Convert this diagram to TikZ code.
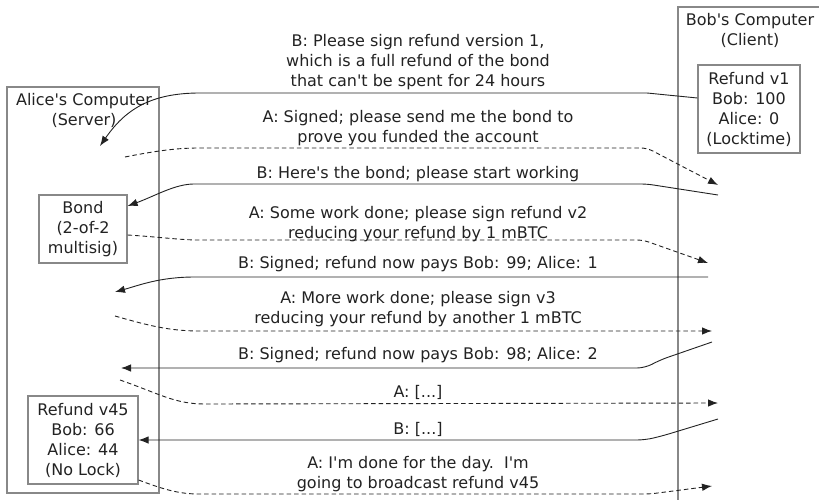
\documentclass[tikz,border=0pt]{standalone}
\usepackage{fontspec}
\setmainfont{DejaVu Sans}[Ligatures=TeXOff]
\usetikzlibrary{arrows.meta}
\definecolor{ink}{HTML}{222222}
\definecolor{txt}{HTML}{222222}
\definecolor{frame}{HTML}{888888}
\tikzset{
  every node/.style={font=\fontsize{16}{20}\selectfont, text=txt, align=center, inner sep=0pt},
  machine/.style={draw=frame, line width=1.4pt, fill=none},
  record/.style={draw=frame, line width=1.2pt},
  msg/.style={draw=ink, line width=0.9pt, -{Latex[length=10pt,width=7.5pt]}},
  reply/.style={msg, dashed, dash pattern=on 4.5pt off 3pt},
  lbl/.style={anchor=center}
}
\begin{document}
\begin{tikzpicture}[x=1pt, y=-1pt]
\useasboundingbox (0,0) rectangle (819,500);

% the two machines
\node[machine, minimum width=152pt, minimum height=406pt] (alice) at (83,290) {};
\node (alicet) at (84,110) {Alice's Computer\\(Server)};
\node[machine, minimum width=144pt, minimum height=512pt] (bob) at (750,263) {};
\node (bobt) at (750,30) {Bob's Computer\\(Client)};

% transactions held by each side
\node[record, minimum width=102pt, minimum height=88pt] (r1) at (749,109) {Refund v1\\Bob: 100\\Alice: 0\\(Locktime)};
\node[record, minimum width=88pt, minimum height=68pt] (bond) at (83,229) {Bond\\(2-of-2\\multisig)};
\node[record, minimum width=110pt, minimum height=88pt] (r45) at (83,440) {Refund v45\\Bob: 66\\Alice: 44\\(No Lock)};

% free ends of the message arrows
\coordinate (m1e) at (100,146);
\coordinate (m2s) at (125,157);  \coordinate (m2e) at (718,185);
\coordinate (m3s) at (718,195);
\coordinate (m4e) at (708,263);
\coordinate (m5s) at (708,277);  \coordinate (m5e) at (115,292);
\coordinate (m6s) at (115,316);  \coordinate (m6e) at (712,331);
\coordinate (m7s) at (712,342);  \coordinate (m7e) at (121,368);
\coordinate (m8s) at (120,380);  \coordinate (m8e) at (718,403);
\coordinate (m9s) at (718,419);
\coordinate (m10e) at (712,486);

% messages
\draw[msg] (r1.west |- 0,98) -- (647,93) -- (200,93) .. controls (150,93) and (125,110) .. (m1e);
\draw[reply, rounded corners=6pt] (m2s) .. controls (160,150) and (180,148) .. (205,148) -- (647,148) -- (m2e);
\draw[msg, rounded corners=6pt] (m3s) -- (647,184) -- (200,184) .. controls (175,184) and (155,196) .. (bond.east |- 0,206);
\draw[reply, rounded corners=6pt] (bond.east |- 0,235) .. controls (160,237) and (180,240) .. (205,240) -- (643,240) -- (m4e);
\draw[msg] (m5s) -- (195,277) .. controls (160,277) and (140,285) .. (m5e);
\draw[reply] (m6s) .. controls (150,326) and (170,331) .. (200,331) -- (m6e);
\draw[msg, rounded corners=8pt] (m7s) -- (660,360) -- (645,368) -- (m7e);
\draw[reply] (m8s) .. controls (160,394) and (175,404) .. (205,404) -- (m8e);
\draw[msg, rounded corners=8pt] (m9s) -- (662,436) -- (645,440) -- (r45.east |- 0,440);
\draw[reply, rounded corners=6pt] (r45.east |- 0,480) .. controls (165,490) and (180,494) .. (205,494) -- (650,494) -- (m10e);

% message texts
\node[lbl] (l1) at (418,62) {B: Please sign refund version 1,\\which is a full refund of the bond\\that can't be spent for 24 hours};
\node[lbl] (l2) at (418,128) {A: Signed; please send me the bond to\\prove you funded the account};
\node[lbl] (l3) at (418,174) {B: Here's the bond; please start working};
\node[lbl] (l4) at (418,224) {A: Some work done; please sign refund v2\\reducing your refund by 1 mBTC};
\node[lbl] (l5) at (418,264) {B: Signed; refund now pays Bob: 99; Alice: 1};
\node[lbl] (l6) at (418,309) {A: More work done; please sign v3\\reducing your refund by another 1 mBTC};
\node[lbl] (l7) at (418,355) {B: Signed; refund now pays Bob: 98; Alice: 2};
\node[lbl] (l8) at (418,392) {A: [...]};
\node[lbl] (l9) at (418,429) {B: [...]};
\node[lbl] (l10) at (418,474) {A: I'm done for the day.\ \ I'm\\going to broadcast refund v45};
\end{tikzpicture}
\end{document}
